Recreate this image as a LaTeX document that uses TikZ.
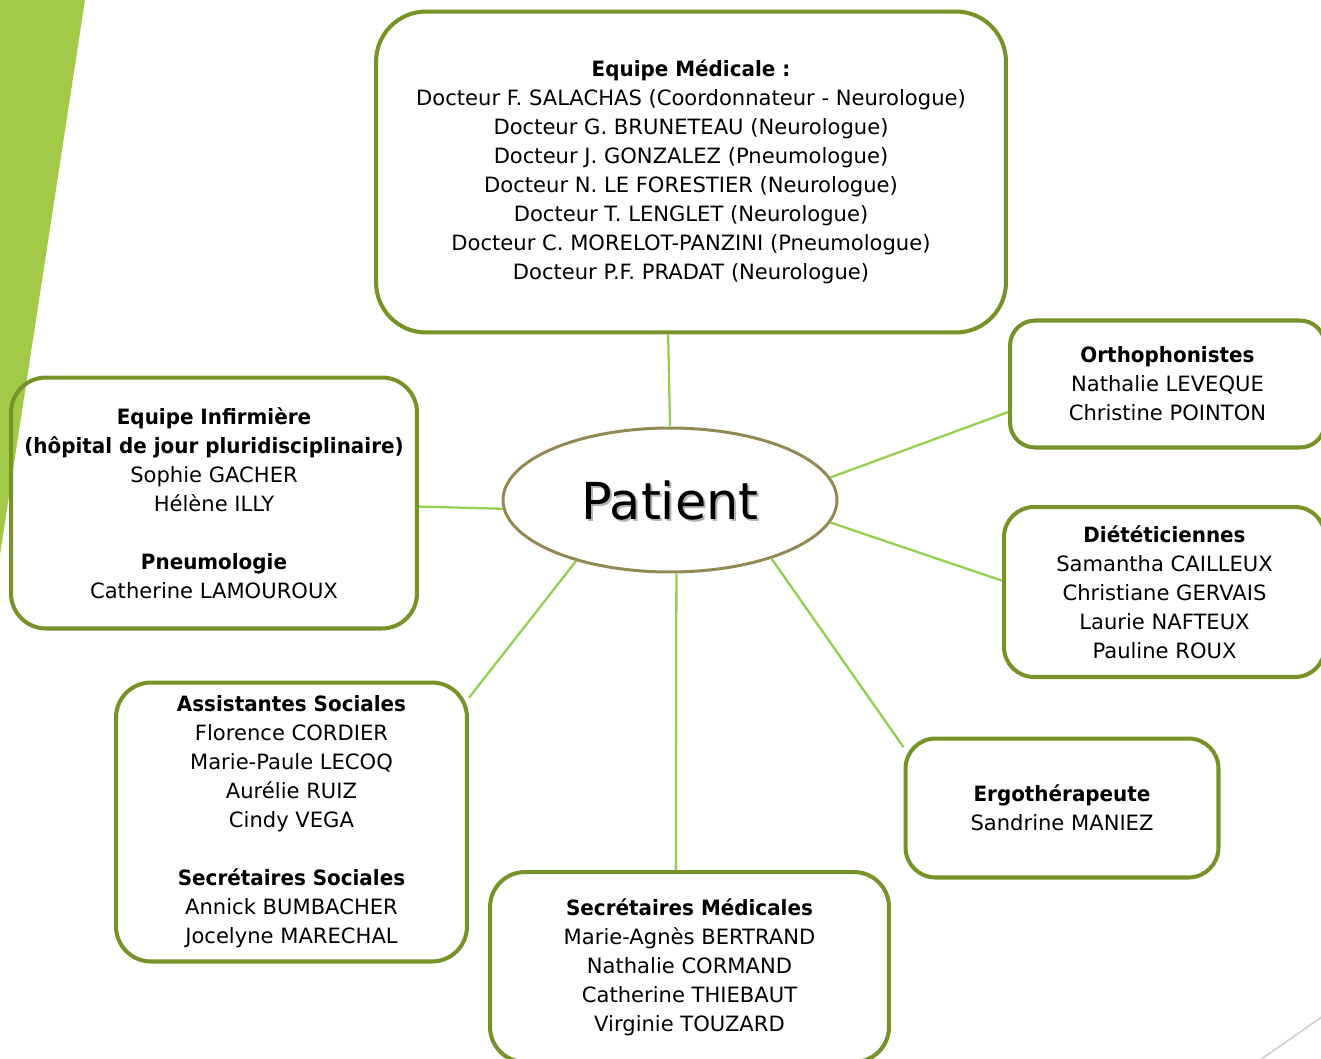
\documentclass[tikz,border=0pt]{standalone}
\usepackage{fontspec}
\setmainfont{DejaVu Sans}[BoldFeatures={FakeStretch=0.945}]
\usetikzlibrary{shapes.geometric}
\definecolor{boxgreen}{RGB}{118,146,40}
\definecolor{linkgreen}{RGB}{146,208,80}
\definecolor{wedgegreen}{RGB}{163,201,72}
\definecolor{patborder}{RGB}{147,137,83}
\tikzset{
  team/.style={draw=boxgreen, line width=2.3pt, rounded corners=0.7cm, align=center, inner sep=0pt,
    font=\fontsize{12}{16.5}\selectfont}, % one box per team
  patient/.style={ellipse, draw=patborder, line width=1.7pt, minimum width=6.68cm, minimum height=2.88cm,
    inner sep=0pt, font=\fontsize{29}{34}\selectfont},
  link/.style={linkgreen, line width=1.3pt}
}

\begin{document}
\begin{tikzpicture}[x=0.02cm, y=-0.02cm]
  \useasboundingbox (0,0) rectangle (1321,1058);

  % slide decoration
  \fill[wedgegreen] (0,0) -- (85,0) -- (0,555) -- cycle;
  \draw[black!18, line width=1pt] (1260,1060) -- (1323,1016);

  % teams
  \node[team, rounded corners=1cm, minimum width=12.6cm, minimum height=6.42cm] (med) at (691,172) {
    \textbf{Equipe Médicale :}\\
    Docteur F. SALACHAS (Coordonnateur - Neurologue)\\
    Docteur G. BRUNETEAU (Neurologue)\\
    Docteur J. GONZALEZ (Pneumologue)\\
    Docteur N. LE FORESTIER (Neurologue)\\
    Docteur T. LENGLET (Neurologue)\\
    Docteur C. MORELOT-PANZINI (Pneumologue)\\
    Docteur P.F. PRADAT (Neurologue)};

  \node[team, rounded corners=0.5cm, minimum width=6.3cm, minimum height=2.54cm] (ortho) at (1167.5,384) {
    \textbf{Orthophonistes}\\
    Nathalie LEVEQUE\\
    Christine POINTON};

  \node[team, rounded corners=0.6cm, minimum width=6.42cm, minimum height=3.4cm] (diet) at (1164.5,592) {
    \textbf{Diététiciennes}\\
    Samantha CAILLEUX\\
    Christiane GERVAIS\\
    Laurie NAFTEUX\\
    Pauline ROUX};

  \node[team, rounded corners=0.6cm, minimum width=6.26cm, minimum height=2.78cm] (ergo) at (1062,808) {
    \textbf{Ergothérapeute}\\
    Sandrine MANIEZ};

  \node[team, minimum width=7.98cm, minimum height=3.8cm] (secmed) at (689.5,967) {
    \textbf{Secrétaires Médicales}\\
    Marie-Agnès BERTRAND\\
    Nathalie CORMAND\\
    Catherine THIEBAUT\\
    Virginie TOUZARD};

  \node[team, minimum width=7.02cm, minimum height=5.58cm] (assist) at (291.5,822) {
    \textbf{Assistantes Sociales}\\
    Florence CORDIER\\
    Marie-Paule LECOQ\\
    Aurélie RUIZ\\
    Cindy VEGA\\[0.58cm]
    \textbf{Secrétaires Sociales}\\
    Annick BUMBACHER\\
    Jocelyne MARECHAL};

  \node[team, minimum width=8.12cm, minimum height=5.02cm] (infirm) at (214,503) {
    \textbf{Equipe Infirmière}\\
    \textbf{(hôpital de jour pluridisciplinaire)}\\
    Sophie GACHER\\
    Hélène ILLY\\[0.58cm]
    \textbf{Pneumologie}\\
    Catherine LAMOUROUX};

  % patient in the middle
  \node[font=\fontsize{29}{34}\selectfont, text=black!30] (patshadow) at (672,502) {Patient};
  \node[patient] (pat) at (670,500) {Patient};

  % links
  \draw[link] (med.262) -- (pat.north);
  \draw[link] (ortho.190) -- (pat.8);
  \draw[link] (diet.176) -- (pat.-8);
  \draw[link] (ergo.159) -- (pat.-30);
  \draw[link] (secmed.98) -- (pat.275);
  \draw[link] (assist.35) -- (pat.213);
  \draw[link] (infirm.-1.5) -- (pat.183);
\end{tikzpicture}
\end{document}
